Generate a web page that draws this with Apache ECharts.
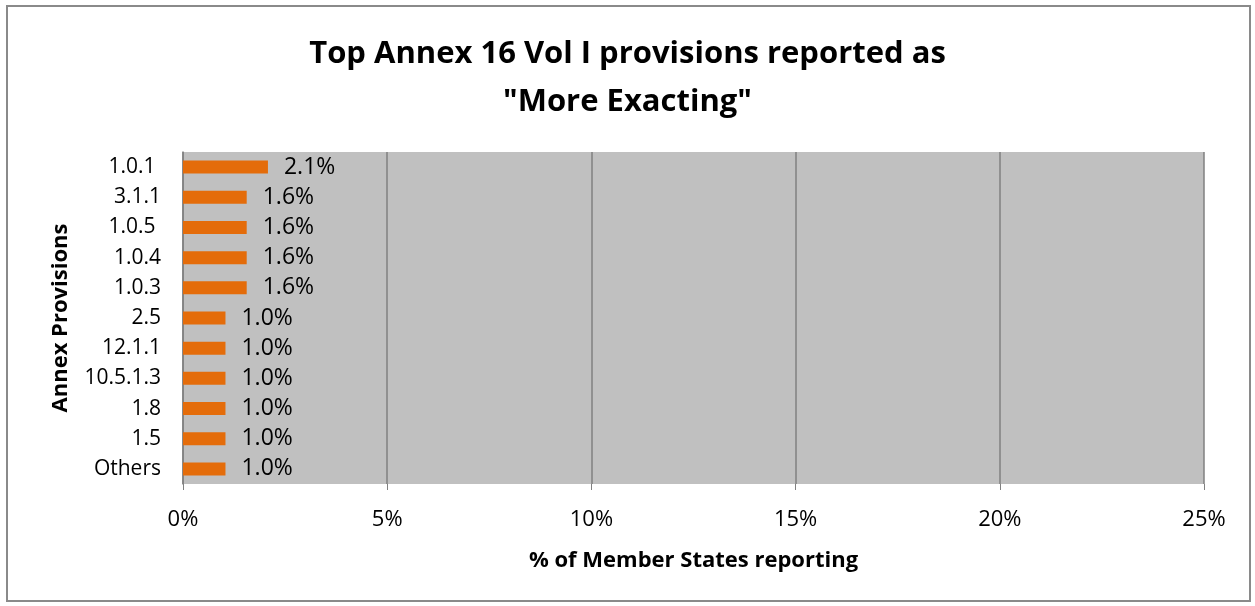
<!DOCTYPE html>
<html><head><meta charset="utf-8">
<script src="https://cdn.jsdelivr.net/npm/echarts@6/dist/echarts.min.js"></script>
<style>html,body{margin:0;padding:0;background:#fff}#c{width:1255px;height:606px}
#frame{position:absolute;left:6px;top:5px;width:1245px;height:597px;border:2px solid #8a8a8a;box-sizing:border-box;pointer-events:none}</style>
</head><body><div id="c"></div><div id="frame"></div>
<script>
const categories = ["1.0.1 ","3.1.1","1.0.5 ","1.0.4","1.0.3","2.5","12.1.1","10.5.1.3","1.8","1.5","Others"];
const values = [2.08,1.56,1.56,1.56,1.56,1.04,1.04,1.04,1.04,1.04,1.04];
const xTicks = [0,5,10,15,20,25];
const titleText = "Top Annex 16 Vol I provisions reported as\n\"More Exacting\"";
const FONT = "Open Sans";
const chart = echarts.init(document.getElementById('c'));
chart.setOption({
  backgroundColor:'#fff',
  animation:false,
  title:{text:titleText,left:'center',top:25,textStyle:{fontFamily:FONT,fontSize:31,fontWeight:'bold',color:'#000',lineHeight:48}},
  grid:{left:183,right:51,top:152,bottom:122,backgroundColor:'#C0C0C0',show:true,borderWidth:0},
  xAxis:{type:'value',min:0,max:25,interval:5,
    name:'% of Member States reporting',nameLocation:'middle',nameGap:66,
    nameTextStyle:{fontFamily:FONT,fontSize:22,fontWeight:'bold',color:'#000'},
    axisLine:{show:false},
    axisTick:{show:true,length:6,lineStyle:{color:'#808080'}},
    axisLabel:{fontFamily:FONT,fontSize:22,color:'#000',margin:25,formatter:v=>v+'%'},
    splitLine:{show:true,lineStyle:{color:'#808080',width:1.5}}},
  yAxis:{type:'category',data:categories,inverse:true,
    name:'Annex Provisions',nameLocation:'middle',nameGap:111,nameRotate:90,
    nameTextStyle:{fontFamily:FONT,fontSize:22,fontWeight:'bold',color:'#000'},
    axisLine:{show:true,lineStyle:{color:'#808080',width:1.5}},
    axisTick:{show:false},
    axisLabel:{fontFamily:FONT,fontSize:21,color:'#000',margin:22}},
  series:[{type:'bar',data:values,barWidth:13,itemStyle:{color:'#E46C0A'},
    label:{show:true,position:'right',distance:16,fontFamily:FONT,fontSize:23,color:'#000',formatter:p=>p.value.toFixed(1)+'%'}}]
});
</script></body></html>
